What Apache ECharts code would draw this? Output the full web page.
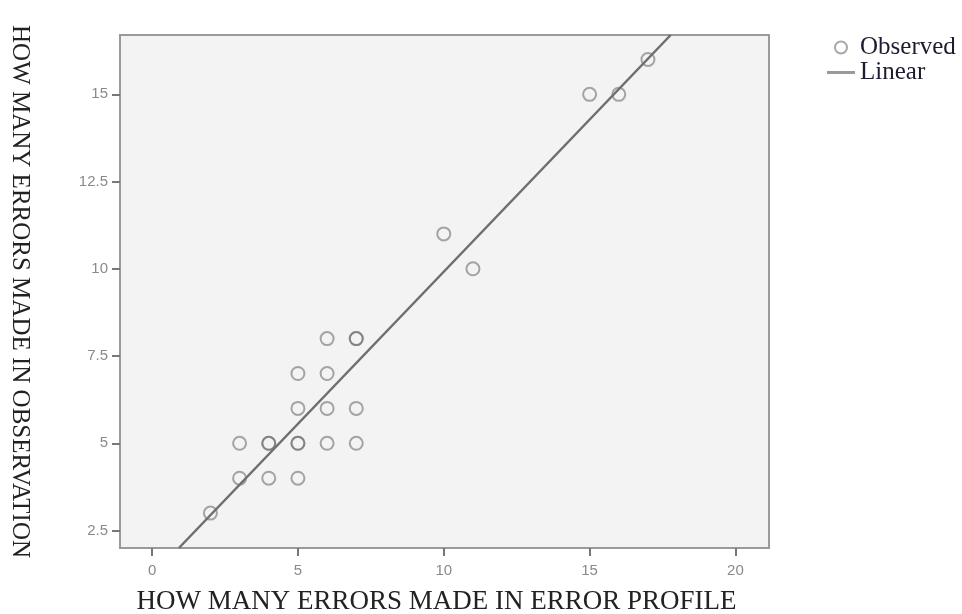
<!DOCTYPE html>
<html>
<head>
<meta charset="utf-8">
<script src="https://cdn.jsdelivr.net/npm/echarts@6/dist/echarts.min.js"></script>
<style>
  html, body { margin: 0; padding: 0; background: #fff; }
  #chart { width: 962px; height: 614px; }
</style>
</head>
<body>
<div id="chart"></div>
<script>
// errors in error profile (x) vs errors in observation (y)
var observed = [
  [2, 3], [3, 4], [3, 5], [4, 4], [4, 5], [4, 5], [5, 4], [5, 5], [5, 5],
  [5, 6], [5, 7], [6, 5], [6, 6], [6, 7], [6, 8], [7, 5], [7, 6], [7, 8], [7, 8],
  [10, 11], [11, 10], [15, 15], [16, 15], [17, 16]
];
// fitted line, read at the edges of the plot
var linear = [[0.92, 2.0], [17.78, 16.7]];
var xTicks = [0, 5, 10, 15, 20];
var yTicks = [2.5, 5, 7.5, 10, 12.5, 15];

var chart = echarts.init(document.getElementById("chart"));
var tickLabel = {
  fontFamily: "Liberation Sans",
  fontSize: 15,
  color: "#8a8a8a",
};
var option = {
  animation: false,
  backgroundColor: "#fff",
  grid: {
    left: 120,
    right: 193,
    top: 35,
    bottom: 66,
    outerBoundsMode: "none",
    show: true,
    backgroundColor: "#f3f3f3",
    borderColor: "#9a9a9a",
    borderWidth: 2,
  },
  legend: {
    orient: "vertical",
    left: 822,
    top: 30,
    itemWidth: 28,
    itemHeight: 12,
    itemGap: 0,
    textStyle: {
      fontFamily: "Liberation Serif",
      fontSize: 25,
      lineHeight: 22,
      color: "#1c1c30",
    },
    data: [
      { name: "Observed", icon: "circle" },
      { name: "Linear", icon: "path://M0,0 L28,0 L28,3 L0,3 Z" },
    ],
  },
  xAxis: {
    type: "value",
    min: -1.1,
    max: 21.15,
    name: "HOW MANY ERRORS MADE IN ERROR PROFILE",
    nameLocation: "middle",
    nameGap: 40,
    nameTextStyle: {
      fontFamily: "Liberation Serif",
      fontSize: 27,
      color: "#222",
      padding: [0, 16, 0, 0],
    },
    axisLine: { show: true, onZero: false, lineStyle: { color: "#9a9a9a", width: 2 } },
    axisTick: {
      show: true,
      length: 8,
      customValues: xTicks,
      lineStyle: { color: "#777", width: 2 },
    },
    axisLabel: Object.assign({ customValues: xTicks, margin: 15 }, tickLabel),
    splitLine: { show: false },
  },
  yAxis: {
    type: "value",
    min: 2.0,
    max: 16.7,
    name: "HOW MANY ERRORS MADE IN OBSERVATION",
    nameLocation: "middle",
    nameRotate: -90,
    nameGap: 88,
    nameTextStyle: {
      fontFamily: "Liberation Serif",
      fontSize: 25,
      color: "#222",
    },
    axisLine: { show: true, onZero: false, lineStyle: { color: "#9a9a9a", width: 2 } },
    axisTick: {
      show: true,
      length: 8,
      customValues: yTicks,
      lineStyle: { color: "#777", width: 2 },
    },
    axisLabel: Object.assign({ customValues: yTicks, margin: 12 }, tickLabel),
    splitLine: { show: false },
  },
  series: [
    {
      name: "Observed",
      type: "scatter",
      data: observed,
      symbol: "circle",
      symbolSize: 13,
      itemStyle: {
        color: "rgba(0,0,0,0)",
        borderColor: "rgba(110,110,110,0.75)",
        borderWidth: 2,
      },
      z: 3,
    },
    {
      name: "Linear",
      type: "line",
      data: linear,
      symbol: "none",
      lineStyle: { color: "#6e6e6e", width: 2.5 },
      itemStyle: { color: "#9a9a9a" },
      z: 2,
    },
  ],
};
chart.setOption(option);
</script>
</body>
</html>
